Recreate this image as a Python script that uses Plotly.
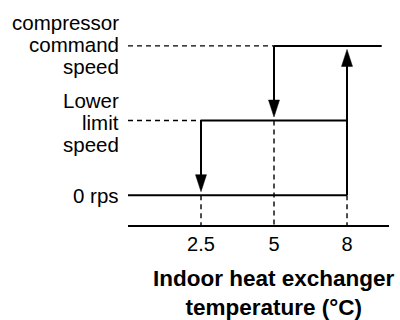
import plotly.graph_objects as go

# Speed levels (bottom to top) and their labels, one list entry per text line
speed_levels = [0, 1, 2]
speed_labels = [["0 rps"], ["Lower", "limit", "speed"], ["compressor", "command", "speed"]]

# Temperature thresholds (°C) shown on the horizontal axis
temp_labels = ["2.5", "5", "8"]
temp_pos = [1, 2, 3]          # evenly spaced slots for the thresholds

# Hysteresis steps: (temperature slot, from level, to level)
step_down_1 = (temp_pos[1], 2, 1)   # at 5 °C: command -> lower limit
step_down_2 = (temp_pos[0], 1, 0)   # at 2.5 °C: lower limit -> 0 rps
step_up = (temp_pos[2], 0, 2)       # at 8 °C: 0 rps -> command

X_RANGE = [0, 3.575]
Y_RANGE = [-0.4, 2.2]
TOP_LINE_END = 3.475

W, H = 400, 320
M = dict(l=128, r=11, t=31, b=95)
PX_X = (W - M["l"] - M["r"]) / (X_RANGE[1] - X_RANGE[0])
PX_Y = (H - M["t"] - M["b"]) / (Y_RANGE[1] - Y_RANGE[0])

HEAD_HALF_W = 5.5 / PX_X
HEAD_LEN = 17 / PX_Y
TIP_GAP = 3.5 / PX_Y

LINE_W = 2
DASH_W = 1.4
BLACK = "#000000"
FONT = "Liberation Sans"

fig = go.Figure()

# dashed guide lines from the axes to the step points
gx, gy = [], []
gx += [X_RANGE[0], step_down_1[0], None]; gy += [speed_levels[2], speed_levels[2], None]
gx += [X_RANGE[0], step_down_2[0], None]; gy += [speed_levels[1], speed_levels[1], None]
gx += [step_down_2[0], step_down_2[0], None]; gy += [speed_levels[0], Y_RANGE[0], None]
gx += [step_down_1[0], step_down_1[0], None]; gy += [speed_levels[1], Y_RANGE[0], None]
gx += [step_up[0], step_up[0], None]; gy += [speed_levels[0], Y_RANGE[0], None]
fig.add_trace(go.Scatter(x=gx, y=gy, mode="lines", hoverinfo="skip",
                         line=dict(color=BLACK, width=DASH_W, dash="5px,4px")))


def arrow(step):
    x, y0, y1 = step
    d = 1 if y1 > y0 else -1
    tip = y1 - d * TIP_GAP
    base = tip - d * HEAD_LEN
    shaft = ([x, x, None], [y0, base + d * 0.01, None])
    head = ([x - HEAD_HALF_W, x + HEAD_HALF_W, x, x - HEAD_HALF_W, None],
            [base, base, tip, base, None])
    return shaft, head


sx, sy = [], []
# 0 rps run up to 8 °C, lower-limit run, command run
sx += [X_RANGE[0], step_up[0], None]; sy += [speed_levels[0], speed_levels[0], None]
sx += [step_down_2[0], step_up[0], None]; sy += [speed_levels[1], speed_levels[1], None]
sx += [step_down_1[0], TOP_LINE_END, None]; sy += [speed_levels[2], speed_levels[2], None]

hx, hy = [], []
for st in (step_down_1, step_down_2, step_up):
    (ax, ay), (bx, by) = arrow(st)
    sx += ax; sy += ay
    hx += bx; hy += by

fig.add_trace(go.Scatter(x=sx, y=sy, mode="lines", hoverinfo="skip",
                         line=dict(color=BLACK, width=LINE_W)))
fig.add_trace(go.Scatter(x=hx, y=hy, mode="lines", fill="toself", fillcolor=BLACK,
                         hoverinfo="skip", line=dict(color=BLACK, width=0.5)))

# speed labels, one annotation per line so the spacing stays tight
LINE_GAP = 22
BLOCK_SHIFT = {0: 0, 1: -2, 2: 1}
for level, lines in zip(speed_levels, speed_labels):
    n = len(lines)
    for i, txt in enumerate(lines):
        fig.add_annotation(
            x=0, xref="paper", y=level, yref="y",
            xanchor="right", yanchor="middle", xshift=-7,
            yshift=((n - 1) / 2 - i) * LINE_GAP + BLOCK_SHIFT[level],
            text=txt, showarrow=False,
            font=dict(family=FONT, size=20.5, color=BLACK),
        )

# axis title
fig.add_annotation(
    x=(274 - M["l"]) / (W - M["l"] - M["r"]), xref="paper",
    y=0, yref="paper", yanchor="top", yshift=-39,
    text="<b>Indoor heat exchanger<br>temperature (°C)</b>", showarrow=False,
    font=dict(family=FONT, size=22.5, color=BLACK),
)

fig.update_layout(
    width=W, height=H, margin=M,
    paper_bgcolor="white", plot_bgcolor="white",
    showlegend=False,
    xaxis=dict(range=X_RANGE, showgrid=False, zeroline=False,
               showline=True, linecolor=BLACK, linewidth=2,
               tickvals=temp_pos, ticktext=temp_labels, ticks="",
               tickfont=dict(family=FONT, size=20, color=BLACK)),
    yaxis=dict(range=Y_RANGE, visible=False),
)

fig.write_html("out.html")
